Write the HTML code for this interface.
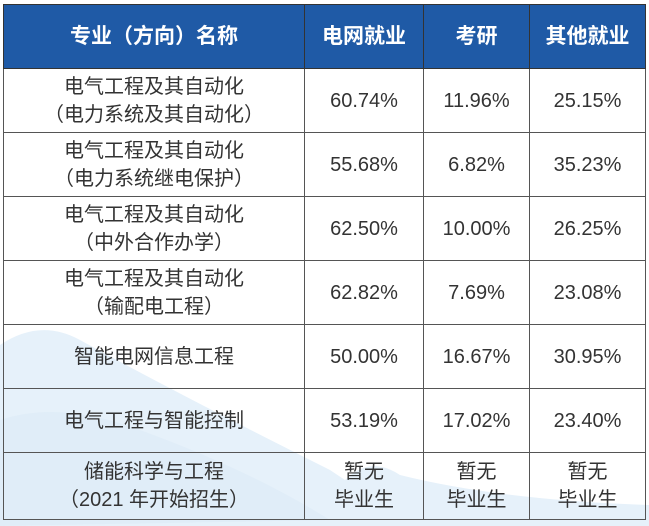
<!DOCTYPE html>
<html><head><meta charset="utf-8"><style>
html,body{margin:0;padding:0;width:649px;height:526px;background:#fff;overflow:hidden}
body{position:relative;font-family:"Liberation Sans","Noto Sans CJK SC",sans-serif}
svg.bg{position:absolute;left:0;top:0}
table{position:absolute;left:3px;top:4px;border-collapse:collapse;width:642px;table-layout:fixed}
td,th{border:1.5px solid #555;text-align:center;color:#333;font-size:20px;line-height:28px;padding:0}
th{background:#1f5aa6;color:#fff;font-size:21px;font-weight:bold;height:63px;border-color:#333}
td{height:63px}
</style></head><body>
<svg class="bg" width="649" height="526">
<path d="M0 345 Q40 318 80 340 Q180 395 330 470 L345 480 Q370 455 400 475 Q500 500 649 505 L649 526 L0 526 Z" fill="#e6f1fa"/>
<path d="M0 420 Q60 400 140 430 Q250 470 330 520 L0 526Z" fill="#dcebf7" opacity="0.6"/>
</svg>
<table>
<colgroup><col style="width:301px"><col style="width:119px"><col style="width:106px"><col style="width:116px"></colgroup>
<tr><th>专业（方向）名称</th><th>电网就业</th><th>考研</th><th>其他就业</th></tr>
<tr><td>电气工程及其自动化<br>（电力系统及其自动化）</td><td>60.74%</td><td>11.96%</td><td>25.15%</td></tr>
<tr><td>电气工程及其自动化<br>（电力系统继电保护）</td><td>55.68%</td><td>6.82%</td><td>35.23%</td></tr>
<tr><td>电气工程及其自动化<br>（中外合作办学）</td><td>62.50%</td><td>10.00%</td><td>26.25%</td></tr>
<tr><td>电气工程及其自动化<br>（输配电工程）</td><td>62.82%</td><td>7.69%</td><td>23.08%</td></tr>
<tr><td>智能电网信息工程</td><td>50.00%</td><td>16.67%</td><td>30.95%</td></tr>
<tr><td>电气工程与智能控制</td><td>53.19%</td><td>17.02%</td><td>23.40%</td></tr>
<tr><td style="height:66px">储能科学与工程<br>（2021 年开始招生）</td><td>暂无<br>毕业生</td><td>暂无<br>毕业生</td><td>暂无<br>毕业生</td></tr>
</table>
</body></html>
